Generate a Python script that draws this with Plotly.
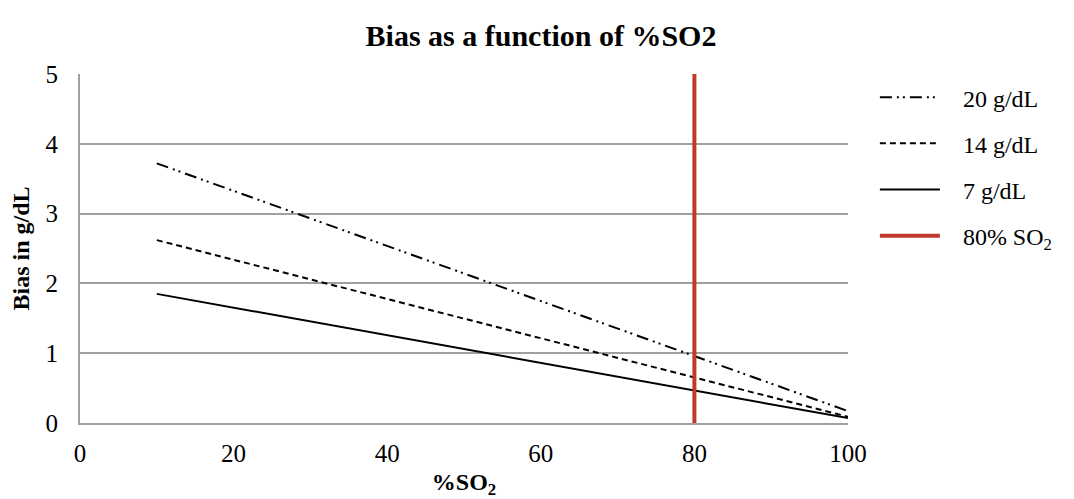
import plotly.graph_objects as go

so2 = [10, 100]
bias_20 = [3.72, 0.17]
bias_14 = [2.62, 0.09]
bias_7 = [1.85, 0.07]
ref_x = [80, 80]
ref_y = [0, 5]

x_ticks = [0, 20, 40, 60, 80, 100]
y_ticks = [0, 1, 2, 3, 4, 5]

FONT = "Liberation Serif"
PAD = "\u00a0\u00a0\u00a0"

fig = go.Figure()
fig.add_trace(go.Scatter(x=so2, y=bias_20, mode="lines", name=PAD + "20 g/dL", legendgroup="a",
                         line=dict(color="black", width=2, dash="12px,5px,2px,4px,2px,5px")))
fig.add_trace(go.Scatter(x=so2, y=bias_14, mode="lines", name=PAD + "14 g/dL", legendgroup="b",
                         line=dict(color="black", width=2, dash="6px,4px")))
fig.add_trace(go.Scatter(x=so2, y=bias_7, mode="lines", name=PAD + "7 g/dL", legendgroup="c",
                         line=dict(color="black", width=2)))
fig.add_trace(go.Scatter(x=ref_x, y=ref_y, mode="lines", name=PAD + "80% SO<sub>2</sub>", legendgroup="d",
                         line=dict(color="#C0392B", width=4)))

fig.update_layout(
    width=1066, height=491,
    margin=dict(l=72, r=226, t=66, b=76, autoexpand=False),
    paper_bgcolor="white", plot_bgcolor="white",
    font=dict(family=FONT, size=24, color="black"),
    title=dict(text="<b>Bias as a function of %SO2</b>", x=0.5, xanchor="center",
               y=0.945, yanchor="middle", font=dict(family=FONT, size=30)),
    showlegend=True,
    legend=dict(x=1.035, y=0.997, xanchor="left", yanchor="top", tracegroupgap=12,
                itemwidth=60, font=dict(family=FONT, size=24), bgcolor="rgba(0,0,0,0)"),
)
fig.update_xaxes(range=[0, 100], tickvals=x_ticks, showgrid=False, zeroline=False,
                 showline=True, linecolor="#a0a0a0", linewidth=2, ticks="",
                 ticklabelstandoff=7, automargin=False,
                 tickfont=dict(family=FONT, size=25),
                 title=dict(text="<b>%SO<sub>2</sub></b>", font=dict(family=FONT, size=24), standoff=15))
fig.update_yaxes(range=[0, 5], tickvals=y_ticks, showgrid=True, gridcolor="#a0a0a0", gridwidth=2,
                 zeroline=False, showline=True, linecolor="#a0a0a0", linewidth=2, ticks="",
                 ticklabelstandoff=15, automargin=False,
                 tickfont=dict(family=FONT, size=25),
                 title=dict(text="<b>Bias in g/dL</b>", font=dict(family=FONT, size=24), standoff=10))

fig.write_html("out.html")
